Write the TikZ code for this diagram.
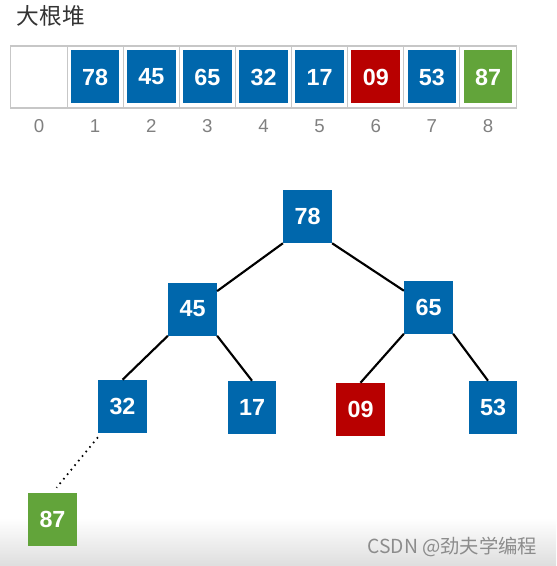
\documentclass[tikz,border=0pt]{standalone}
\usepackage{fontspec}
\setmainfont{Liberation Sans}
\newfontfamily\cjkfont{Noto Sans CJK SC}
\usepackage{tikz}
\usetikzlibrary{positioning,calc}
\definecolor{heapblue}{RGB}{0,103,172}
\definecolor{heapred}{RGB}{184,0,0}
\definecolor{heapgreen}{RGB}{98,164,58}

\begin{document}
\begin{tikzpicture}[x=0.75pt,y=-0.75pt,
   cell/.style={rectangle,draw=black!22,line width=0.8pt,minimum width=42.1pt,minimum height=46.5pt,inner sep=0pt},
   key/.style={rectangle,fill=#1,text=white,font=\bfseries\fontsize{17.5}{17.5}\selectfont,minimum width=36.5pt,minimum height=39.75pt,inner sep=0pt},
   idx/.style={text=black!50,font=\fontsize{14}{14}\selectfont},
   edge/.style={black,line width=1.6pt}]
   \useasboundingbox (0,0) rectangle (556,566);
   \shade[top color=white,bottom color=black!13] (0,518) rectangle (556,566);
   \node (title) [anchor=west,text=black!80,font=\cjkfont\fontsize{17}{17}\selectfont] at (12,16) {大根堆};
   \foreach \i in {0,...,8} {
      \path (39+56.125*\i,77) node (c\i) [cell] {};
      \node [idx] at ($(c\i) + (0,49)$) {\i};
   }
   \foreach \i/\v/\c in {1/78/heapblue,2/45/heapblue,3/65/heapblue,4/32/heapblue,5/17/heapblue,6/09/heapred,7/53/heapblue,8/87/heapgreen}
      \node (a\i) [key=\c] at (c\i) {\v};
   \path   (307.5,216.5) node (t1) [key=heapblue] {78}
           (192.5,309)   node (t2) [key=heapblue] {45}
           (428.5,307)   node (t3) [key=heapblue] {65}
           (122.5,406.5) node (t4) [key=heapblue] {32}
           (252,407.5)   node (t5) [key=heapblue] {17}
           (360.5,409.5) node (t6) [key=heapred] {09}
           (493,407.5)   node (t7) [key=heapblue] {53}
           (52.5,519.5)  node (t8) [key=heapgreen] {87};
   \draw [edge] (t1.south west) -- (t2);
   \draw [edge] (t1.south east) -- (t3);
   \draw [edge] (t2.south west) -- (t4.north);
   \draw [edge] (t2.south east) -- (t5.north);
   \draw [edge] (t3.south west) -- (t6.north);
   \draw [edge] (t3.south east) -- ($(t7.north)+(-5,0)$);
   \draw [black,line width=1.3pt,dash pattern=on 1.2pt off 3.2pt] ($(t4.south west)+(0,4)$) -- ($(t8.north)+(4,-5)$);
   \node (mark) [anchor=east,text=black!45,font=\cjkfont\fontsize{14.5}{14.5}\selectfont] at (542,547) {CSDN @劲夫学编程};
\end{tikzpicture}
\end{document}
